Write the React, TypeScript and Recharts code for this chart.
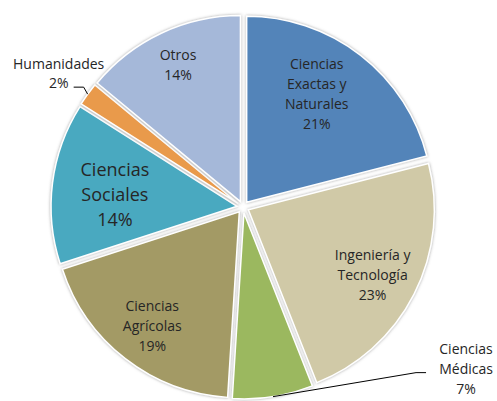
import React from 'react';
import { PieChart, Pie, Cell, Sector } from 'recharts';

// slices, clockwise from 12 o'clock
const categories = [
  'Ciencias\nExactas y\nNaturales',
  'Ingeniería y\nTecnología',
  'Ciencias\nMédicas',
  'Ciencias\nAgrícolas',
  'Ciencias\nSociales',
  'Humanidades',
  'Otros',
];
const shares = [21, 23, 7, 19, 14, 2, 14];
const colors = ['#5384b9', '#d0c9a7', '#9bb85f', '#a39a65', '#4aa9c0', '#e99a4c', '#a5b8d9'];

const data = categories.map((name, i) => ({ name, value: shares[i] }));

const RAD = Math.PI / 180;
const CX = 243;
const CY = 207;
const R = 186;
const OFF = 6;
const FONT = '"Open Sans", sans-serif';
const TEXT = '#262626';

// small nudges so the inside labels sit where the original has them
const nudge: Record<number, [number, number]> = {
  0: [-14, 0],
  1: [2, 2],
  3: [-3, 5],
  4: [14, 5],
  6: [-4, -13],
};

// every slice is pulled out along its own mid angle
const renderSlice = (props: any) => {
  const dx = OFF * Math.cos(-props.midAngle * RAD);
  const dy = OFF * Math.sin(-props.midAngle * RAD);
  return (
    <Sector
      cx={props.cx + dx}
      cy={props.cy + dy}
      innerRadius={0}
      outerRadius={props.outerRadius}
      startAngle={props.startAngle}
      endAngle={props.endAngle}
      fill={props.fill}
      stroke="#ffffff"
      strokeWidth={1.5}
      filter="url(#sliceShadow)"
    />
  );
};

const Lines = ({ x, y, lines, size, step }: any) => {
  const top = y - ((lines.length - 1) * step) / 2;
  return (
    <text x={x} y={top} textAnchor="middle" fontFamily={FONT} fontSize={size} fill={TEXT}>
      {lines.map((l: string, i: number) => (
        <tspan key={i} x={x} y={top + i * step} dominantBaseline="central">
          {l}
        </tspan>
      ))}
    </text>
  );
};

const renderLabel = (props: any) => {
  const { cx, cy, midAngle, outerRadius, index, name, value } = props;
  const cos = Math.cos(-midAngle * RAD);
  const sin = Math.sin(-midAngle * RAD);
  const lines = [...name.split('\n'), `${value}%`];

  if (name === 'Humanidades') {
    const x0 = cx + (outerRadius + OFF) * cos;
    const y0 = cy + (outerRadius + OFF) * sin;
    const x1 = x0 - 4;
    const y1 = y0 - 7;
    const x2 = x1 - 10;
    return (
      <g key={index}>
        <polyline points={`${x0},${y0} ${x1},${y1} ${x2},${y1}`} fill="none" stroke="#000" strokeWidth={1} />
        <Lines x={x2 - 15} y={y1 - 14.5} lines={lines} size={14} step={19} />
      </g>
    );
  }
  if (name === 'Ciencias\nMédicas') {
    const x0 = cx + (outerRadius + OFF) * cos;
    const y0 = cy + (outerRadius + OFF) * sin;
    const x1 = x0 + 143;
    const y1 = y0 - 24;
    const x2 = x1 + 10;
    return (
      <g key={index}>
        <polyline points={`${x0},${y0} ${x1},${y1} ${x2},${y1}`} fill="none" stroke="#000" strokeWidth={1} />
        <Lines x={x2 + 40} y={y1 - 4} lines={lines} size={14} step={20} />
      </g>
    );
  }
  const big = name === 'Ciencias\nSociales';
  const r = outerRadius * 0.77;
  const [nx, ny] = nudge[index] || [0, 0];
  return (
    <Lines
      key={index}
      x={cx + r * cos + nx}
      y={cy + r * sin + ny}
      lines={lines}
      size={big ? 18 : 14}
      step={big ? 25 : 20}
    />
  );
};

export default function App() {
  return (
    <div style={{ position: 'absolute', left: 0, top: 0, width: 497, height: 401, background: '#fff' }}>
      <PieChart width={497} height={401} margin={{ top: 0, right: 0, bottom: 0, left: 0 }}>
        <defs>
          <filter id="sliceShadow" x="-10%" y="-10%" width="120%" height="120%">
            <feDropShadow dx="0" dy="0" stdDeviation="1.5" floodColor="#7f7f7f" floodOpacity="0.7" />
          </filter>
        </defs>
        <Pie
          data={data}
          dataKey="value"
          nameKey="name"
          cx={CX}
          cy={CY}
          outerRadius={R}
          startAngle={90}
          endAngle={-270}
          stroke="#ffffff"
          shape={renderSlice}
          label={renderLabel}
          labelLine={false}
          isAnimationActive={false}
        >
          {data.map((d, i) => (
            <Cell key={d.name} fill={colors[i]} />
          ))}
        </Pie>
      </PieChart>
    </div>
  );
}
